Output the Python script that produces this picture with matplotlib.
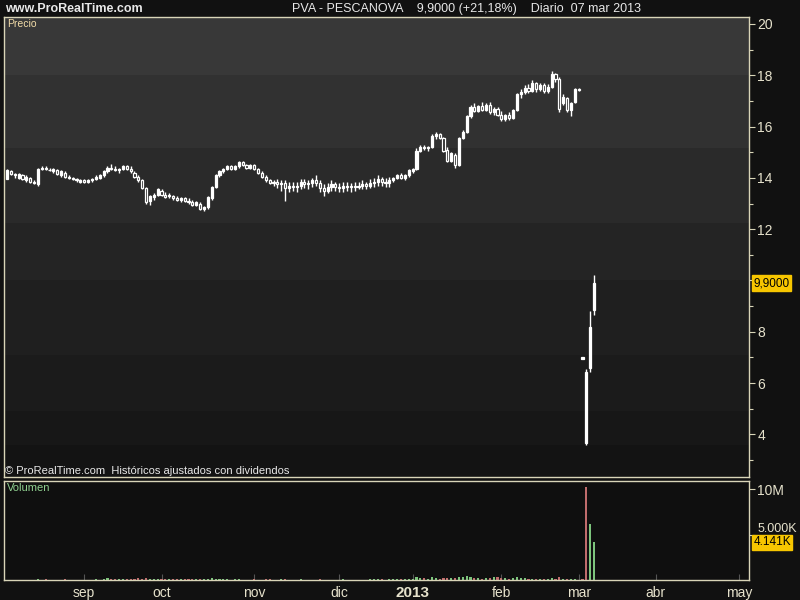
import matplotlib
matplotlib.use("Agg")
import matplotlib.pyplot as plt
from matplotlib.ticker import FixedLocator

plt.rcParams['font.family'] = ['Liberation Sans', 'DejaVu Sans']

# daily OHLC, PVA - Pescanova, early Aug 2012 -> 07 Mar 2013
opens = [13.95, 14.25, 14.15, 14.0, 14.1, 13.9, 14.0, 13.85, 13.75, 14.35,
         14.4, 14.3, 14.25, 14.3, 14.1, 14.2, 14.0, 14.0, 13.95, 13.85,
         13.9, 13.85, 13.9, 13.95, 14.0, 14.1, 14.25, 14.4, 14.35, 14.3,
         14.35, 14.45, 14.35, 14.2, 14.05, 13.9, 13.6, 13.1, 13.25, 13.35,
         13.5, 13.35, 13.3, 13.3, 13.2, 13.15, 13.2, 13.1, 13.05, 12.95,
         13.0, 12.8, 12.85, 13.2, 13.65, 14.1, 14.25, 14.35, 14.45, 14.35,
         14.45, 14.6, 14.5, 14.4, 14.5, 14.35, 14.2, 14.05, 13.9, 13.8,
         13.85, 13.75, 13.8, 13.6, 13.7, 13.65, 13.7, 13.85, 13.75, 13.8,
         13.9, 13.8, 13.6, 13.5, 13.65, 13.75, 13.65, 13.6, 13.7, 13.65,
         13.7, 13.65, 13.7, 13.75, 13.7, 13.8, 13.85, 13.95, 13.85, 13.8,
         13.9, 14.0, 14.1, 14.0, 14.1, 14.25, 14.35, 15.05, 15.2, 15.15,
         15.2, 15.65, 15.7, 15.55, 15.1, 14.65, 14.9, 14.5, 15.55, 15.8,
         16.4, 16.75, 16.6, 16.8, 16.65, 16.85, 16.55, 16.7, 16.45, 16.3,
         16.45, 16.35, 16.65, 17.25, 17.35, 17.5, 17.4, 17.7, 17.45, 17.6,
         17.4, 17.55, 18.05, 17.85, 16.9, 17.1, 16.65, 16.95, 17.45, 6.95,
         3.65, 6.6, 8.85]
highs = [14.35, 14.3, 14.2, 14.2, 14.15, 14.1, 14.05, 13.9, 14.4, 14.45,
         14.45, 14.4, 14.4, 14.35, 14.3, 14.25, 14.1, 14.05, 14.0, 13.95,
         13.95, 13.95, 14.0, 14.1, 14.15, 14.3, 14.45, 14.55, 14.45, 14.4,
         14.5, 14.5, 14.45, 14.25, 14.1, 13.95, 13.65, 13.35, 13.4, 13.6,
         13.55, 13.45, 13.4, 13.35, 13.3, 13.25, 13.25, 13.2, 13.15, 13.1,
         13.05, 12.9, 13.3, 13.7, 14.15, 14.3, 14.4, 14.5, 14.5, 14.5,
         14.65, 14.65, 14.55, 14.55, 14.55, 14.4, 14.25, 14.1, 13.95, 13.9,
         13.95, 13.9, 13.9, 13.85, 13.85, 13.85, 13.95, 13.95, 13.9, 14.0,
         14.1, 13.9, 13.75, 13.8, 13.9, 13.85, 13.8, 13.85, 13.85, 13.8,
         13.85, 13.85, 13.9, 13.85, 13.95, 14.0, 14.1, 14.05, 14.0, 14.05,
         14.05, 14.15, 14.2, 14.15, 14.35, 14.4, 15.15, 15.3, 15.3, 15.25,
         15.7, 15.8, 15.75, 15.6, 15.2, 15.0, 14.95, 15.6, 15.85, 16.45,
         16.85, 16.9, 16.85, 16.95, 16.9, 16.95, 16.75, 16.75, 16.6, 16.5,
         16.55, 16.7, 17.3, 17.45, 17.6, 17.65, 17.8, 17.75, 17.7, 17.7,
         17.65, 18.15, 18.1, 17.95, 17.25, 17.15, 16.95, 17.5, 17.5, 7.0,
         6.55, 8.8, 10.2]
lows = [13.95, 14.1, 14.0, 13.95, 13.9, 13.85, 13.8, 13.75, 13.7, 14.3,
        14.3, 14.25, 14.2, 14.1, 14.05, 14.0, 13.95, 13.9, 13.85, 13.8,
        13.8, 13.8, 13.85, 13.9, 13.95, 14.05, 14.2, 14.3, 14.25, 14.2,
        14.3, 14.3, 14.2, 14.0, 13.85, 13.55, 13.0, 12.95, 13.15, 13.3,
        13.3, 13.2, 13.2, 13.15, 13.1, 13.05, 13.05, 13.0, 12.9, 12.9,
        12.75, 12.7, 12.8, 13.15, 13.6, 14.05, 14.2, 14.3, 14.3, 14.3,
        14.4, 14.45, 14.35, 14.35, 14.3, 14.15, 14.0, 13.85, 13.75, 13.7,
        13.6, 13.5, 13.1, 13.45, 13.5, 13.45, 13.55, 13.6, 13.55, 13.65,
        13.7, 13.45, 13.3, 13.4, 13.5, 13.5, 13.45, 13.45, 13.5, 13.45,
        13.5, 13.55, 13.55, 13.55, 13.6, 13.65, 13.7, 13.7, 13.65, 13.65,
        13.85, 13.95, 13.95, 13.9, 14.05, 14.2, 14.3, 15.0, 15.1, 15.05,
        15.15, 15.5, 15.5, 15.0, 14.6, 14.6, 14.4, 14.45, 15.5, 15.75,
        16.35, 16.55, 16.55, 16.6, 16.6, 16.5, 16.45, 16.4, 16.2, 16.2,
        16.25, 16.3, 16.6, 17.1, 17.25, 17.3, 17.35, 17.35, 17.4, 17.3,
        17.3, 17.5, 17.75, 16.55, 16.85, 16.55, 16.4, 16.9, 17.4, 6.95,
        3.6, 6.45, 8.65]
closes = [14.3, 14.15, 14.1, 14.15, 13.95, 14.05, 13.85, 13.8, 14.35, 14.4,
          14.35, 14.3, 14.35, 14.15, 14.25, 14.05, 14.05, 13.95, 13.9, 13.9,
          13.85, 13.9, 13.95, 14.05, 14.1, 14.25, 14.4, 14.35, 14.3, 14.35,
          14.45, 14.35, 14.25, 14.05, 13.9, 13.6, 13.05, 13.3, 13.35, 13.55,
          13.35, 13.25, 13.35, 13.2, 13.15, 13.2, 13.1, 13.05, 12.95, 13.05,
          12.8, 12.85, 13.25, 13.65, 14.1, 14.25, 14.35, 14.45, 14.35, 14.45,
          14.6, 14.5, 14.4, 14.5, 14.35, 14.2, 14.05, 13.9, 13.8, 13.85,
          13.75, 13.8, 13.6, 13.7, 13.65, 13.7, 13.85, 13.75, 13.8, 13.9,
          13.8, 13.6, 13.5, 13.65, 13.75, 13.65, 13.6, 13.7, 13.65, 13.7,
          13.65, 13.7, 13.75, 13.7, 13.8, 13.85, 13.95, 13.85, 13.8, 13.9,
          14.0, 14.1, 14.0, 14.1, 14.3, 14.35, 15.05, 15.2, 15.15, 15.2,
          15.65, 15.7, 15.55, 15.05, 14.65, 14.95, 14.5, 15.55, 15.8, 16.4,
          16.75, 16.6, 16.8, 16.65, 16.85, 16.55, 16.7, 16.45, 16.3, 16.45,
          16.35, 16.65, 17.25, 17.35, 17.5, 17.4, 17.7, 17.45, 17.6, 17.4,
          17.55, 18.05, 17.85, 16.7, 17.15, 16.65, 16.9, 17.45, 17.42, 7.0,
          6.45, 8.17, 9.9]
# volume in millions
volumes = [0.02, 0.03, 0.02, 0.05, 0.03, 0.02, 0.04, 0.03, 0.08, 0.05,
           0.06, 0.04, 0.03, 0.05, 0.04, 0.06, 0.03, 0.04, 0.03, 0.05,
           0.02, 0.03, 0.04, 0.06, 0.05, 0.12, 0.18, 0.15, 0.1, 0.12,
           0.14, 0.1, 0.12, 0.15, 0.18, 0.14, 0.22, 0.16, 0.12, 0.15,
           0.1, 0.12, 0.14, 0.1, 0.12, 0.08, 0.1, 0.12, 0.14, 0.1,
           0.16, 0.12, 0.15, 0.18, 0.14, 0.1, 0.08, 0.06, 0.05, 0.08,
           0.06, 0.04, 0.05, 0.03, 0.06, 0.04, 0.05, 0.08, 0.06, 0.04,
           0.05, 0.1, 0.06, 0.04, 0.05, 0.03, 0.06, 0.04, 0.03, 0.05,
           0.04, 0.06, 0.05, 0.04, 0.03, 0.05, 0.04, 0.06, 0.03, 0.02,
           0.04, 0.05, 0.03, 0.04, 0.06, 0.08, 0.1, 0.06, 0.05, 0.1,
           0.12, 0.1, 0.08, 0.12, 0.15, 0.1, 0.35, 0.22, 0.2, 0.15,
           0.28, 0.2, 0.15, 0.22, 0.25, 0.18, 0.2, 0.35, 0.3, 0.45,
           0.3, 0.22, 0.2, 0.15, 0.2, 0.22, 0.3, 0.28, 0.25, 0.2,
           0.15, 0.18, 0.3, 0.22, 0.2, 0.15, 0.12, 0.15, 0.12, 0.15,
           0.1, 0.2, 0.15, 0.38, 0.15, 0.12, 0.1, 0.08, 0.05, 0.08,
           10.2, 6.2, 4.141]

month_pos = [20, 40, 64, 86, 105, 128, 148, 168, 189.5]
month_lbl = ['sep', 'oct', 'nov', 'dic', '2013', 'feb', 'mar', 'abr', 'may']

# background shading of the price panel, top to bottom
band_edges = [20.27, 18.0, 15.15, 12.25, 10.0, 7.1, 4.9, 3.6, 2.34]
band_cols = ['#383838', '#313131', '#2a2a2a', '#242424', '#1f1f1f', '#1b1b1b', '#171717', '#131313']

BG = '#111111'
FRAME = '#d9d5b8'
TXT = '#e6e2cc'
YEL = '#f7c600'

fig = plt.figure(figsize=(8, 6), dpi=100, facecolor=BG)
W, H = 800, 600

def box(l, t, r, b):
    return [l / W, 1 - b / H, (r - l) / W, (b - t) / H]

ax = fig.add_axes(box(4, 17, 749, 477))
axv = fig.add_axes(box(4, 481, 749, 580), sharex=ax)

x = list(range(len(closes)))

# price panel
for top, bot, col in zip(band_edges[:-1], band_edges[1:], band_cols):
    ax.axhspan(bot, top, color=col, lw=0, zorder=0)
ax.vlines(x, lows, highs, color='white', lw=1.0, zorder=2)
bottoms = [min(o, c) for o, c in zip(opens, closes)]
heights = [abs(c - o) for o, c in zip(opens, closes)]
faces = ['white' if c >= o else '#222222' for o, c in zip(opens, closes)]
ax.bar(x, heights, bottom=bottoms, width=0.55, color=faces, edgecolor='white',
       linewidth=0.9, zorder=3)

ax.set_ylim(2.34, 20.27)
ax.set_xlim(-0.78, 192.1)
ax.set_facecolor('#1a1a1a')
ax.yaxis.tick_right()
ax.yaxis.set_major_locator(FixedLocator([4, 6, 8, 10, 12, 14, 16, 18, 20]))
ax.yaxis.set_minor_locator(FixedLocator([3, 5, 7, 9, 11, 13, 15, 17, 19]))
ax.set_yticklabels(['4', '6', '8', '', '12', '14', '16', '18', '20'])
ax.tick_params(axis='y', which='both', colors=FRAME, labelcolor=TXT, labelsize=10,
               length=4, width=0.8, pad=2)
ax.tick_params(axis='y', which='minor', length=3)
ax.tick_params(axis='x', which='both', bottom=False, labelbottom=False)
for s in ax.spines.values():
    s.set_color(FRAME)
    s.set_linewidth(1.0)

ax.text(0.004, 0.995, 'Precio', transform=ax.transAxes, ha='left', va='top',
        color='#f2dca8', fontsize=7.5)
ax.text(0.002, 0.003, '\u00a9 ProRealTime.com  Hist\u00f3ricos ajustados con dividendos',
        transform=ax.transAxes, ha='left', va='bottom', color='#e8e8e8', fontsize=8)
ax.text(1.006, closes[-1], '9,9000', transform=ax.get_yaxis_transform(), ha='left',
        va='center', color='black', fontsize=8.5,
        bbox=dict(boxstyle='square,pad=0.15', fc=YEL, ec=YEL))

# volume panel
vcols = ['#7cc47c']
for i in range(1, len(closes)):
    vcols.append('#7cc47c' if closes[i] >= closes[i - 1] else '#c06c6c')
axv.bar(x, volumes, width=0.55, color=vcols, lw=0, zorder=2)
axv.set_ylim(0, 10.88)
axv.set_facecolor('#0f0f0f')
axv.yaxis.tick_right()
axv.yaxis.set_major_locator(FixedLocator([5, 10]))
axv.set_yticklabels(['5.000K', '10M'])
axv.tick_params(axis='y', colors=FRAME, labelcolor=TXT, labelsize=10, length=4,
                width=0.8, pad=2)
axv.get_yticklabels()[0].set_verticalalignment('bottom')
axv.get_yticklabels()[0].set_fontsize(9)
axv.xaxis.set_major_locator(FixedLocator(month_pos))
axv.set_xticklabels(month_lbl)
axv.tick_params(axis='x', colors='#555555', labelcolor=TXT, labelsize=10,
                direction='in', length=4, width=0.8, pad=4)
for lbl in axv.get_xticklabels():
    if lbl.get_text() == '2013':
        lbl.set_fontweight('bold')
        lbl.set_fontsize(11)
for s in axv.spines.values():
    s.set_color(FRAME)
    s.set_linewidth(1.0)
axv.text(0.004, 0.98, 'Volumen', transform=axv.transAxes, ha='left', va='top',
         color='#8fd08f', fontsize=8)
axv.text(1.006, volumes[-1], '4.141K', transform=axv.get_yaxis_transform(), ha='left',
         va='center', color='black', fontsize=8.5,
         bbox=dict(boxstyle='square,pad=0.1', fc=YEL, ec=YEL))

# header line
fig.text(5 / W, 1 - 9 / H, 'www.ProRealTime.com', ha='left', va='center',
         color='#e8e8e8', fontsize=9, fontweight='bold')
fig.text(466 / W, 1 - 9 / H,
         'PVA - PESCANOVA    9,9000 (+21,18%)    Diario  07 mar 2013',
         ha='center', va='center', color='#e8e8e8', fontsize=9)

fig.savefig('out.png', dpi=100, facecolor=BG)
